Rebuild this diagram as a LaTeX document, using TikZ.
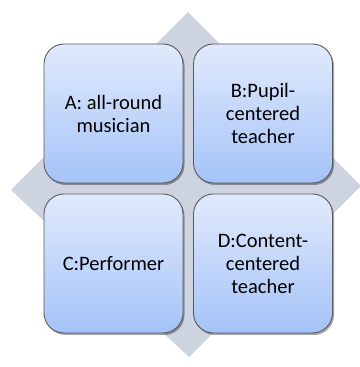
\documentclass[tikz,border=0pt]{standalone}
\usepackage{fontspec}
\setmainfont{Carlito}
\usetikzlibrary{shadows}
\definecolor{diam}{HTML}{CDD4E0}
\definecolor{boxtop}{HTML}{E1EAFC}
\definecolor{boxbot}{HTML}{A5C3F8}
\definecolor{boxline}{HTML}{5A5A5A}
\tikzset{
  quad/.style={draw=boxline, line width=0.9pt, rounded corners=20pt,
    top color=boxtop, bottom color=boxbot, minimum width=139pt, minimum height=139pt,
    align=center, font=\fontsize{20.5}{23}\selectfont, text=black,
    drop shadow={shadow xshift=1.5pt, shadow yshift=-2pt, opacity=0.35, fill=black}}
}
\begin{document}
\begin{tikzpicture}[x=1pt,y=1pt]
\useasboundingbox (0,0) rectangle (359,367);
\fill[diam] (188,355) -- (361,181) -- (189,10) -- (11,177) -- cycle;
\node[quad] (A) at (113.5,253.5) {A: all-round\\musician};
\node[quad] (B) at (263,253.5) {B:Pupil-\\centered\\teacher};
\node[quad] (C) at (113.5,103.5) {C:Performer};
\node[quad] (D) at (263,103.5) {D:Content-\\centered\\teacher};
\end{tikzpicture}
\end{document}
